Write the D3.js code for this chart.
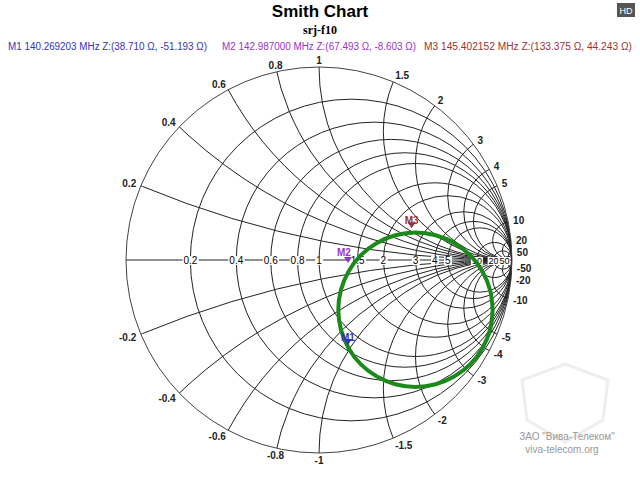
<!DOCTYPE html><html><head><meta charset="utf-8"><script src="https://cdn.jsdelivr.net/npm/d3@7"></script>
<style>body{margin:0;background:#fff}</style></head><body><svg id="c" width="640" height="480"></svg><script>
const rValues=[0.2,0.4,0.6,0.8,1,1.5,2,3,4,5,10,20,50];
const xValues=[0.2,0.4,0.6,0.8,1,1.5,2,3,4,5,10,20,50];
const axisLabels=["0.2","0.4","0.6","0.8","1","1.5","2","3","4","5","10","20","50"];
// trace, reflection coefficient (re, im)
const traceRe=[0.90,0.886,0.846,0.783,0.70,0.604,0.50,0.396,0.30,0.217,0.154,0.114,0.10,0.114,0.154,0.217,0.30,0.396,0.50,0.604,0.70,0.783,0.846,0.886,0.90];
const traceIm=[-0.258,-0.154,-0.058,0.025,0.088,0.128,0.142,0.128,0.088,0.025,-0.058,-0.154,-0.258,-0.362,-0.458,-0.541,-0.604,-0.644,-0.658,-0.644,-0.604,-0.541,-0.458,-0.362,-0.258];
const markerNames=["M1","M2","M3"];
const markerRe=[0.15,0.15,0.48];
const markerIm=[-0.44,-0.015,0.165];
const markerColors=["#3333bb","#9933cc","#993333"];
const markerText=["M1  140.269203 MHz  Z:(38.710 Ω, -51.193 Ω)","M2  142.987000 MHz  Z:(67.493 Ω, -8.603 Ω)","M3  145.402152 MHz  Z:(133.375 Ω, 44.243 Ω)"];

const svg=d3.select("#c"),cx=319,cy=260,R=193;
const sx=d3.scaleLinear().domain([-1,1]).range([cx-R,cx+R]);
const sy=d3.scaleLinear().domain([-1,1]).range([cy+R,cy-R]);
const k=R;
svg.append("text").attr("x",320).attr("y",17).attr("text-anchor","middle").attr("font-family","Arial").attr("font-weight","bold").attr("font-size",17).text("Smith Chart");
svg.append("text").attr("x",320).attr("y",34).attr("text-anchor","middle").attr("font-family","Liberation Serif").attr("font-weight","bold").attr("font-size",12).text("srj-f10");
svg.append("rect").attr("x",617).attr("y",3).attr("width",18).attr("height",14).attr("fill","#555");
svg.append("text").attr("x",626).attr("y",14).attr("text-anchor","middle").attr("fill","#fff").attr("font-family","Arial").attr("font-size",9).text("HD");
const hx=[8,222,424],hw=[199,194,208];
markerText.forEach((t,i)=>svg.append("text").attr("x",hx[i]).attr("y",50).attr("font-family","Arial").attr("font-size",10).attr("textLength",hw[i]).attr("lengthAdjust","spacingAndGlyphs").attr("fill",markerColors[i]).text(t));
svg.append("path").attr("d","M522,380 L565,364 L608,380 L603,420 L565,442 L527,420 Z").attr("fill","none").attr("stroke","#eee").attr("stroke-width",3);
svg.append("text").attr("x",567).attr("y",440).attr("text-anchor","middle").attr("font-family","Arial").attr("font-size",10).attr("fill","#999").text("ЗАО \"Вива-Телеком\"");
svg.append("text").attr("x",562).attr("y",453).attr("text-anchor","middle").attr("font-family","Arial").attr("font-size",10).attr("fill","#999").text("viva-telecom.org");

svg.append("clipPath").attr("id","uc").append("circle").attr("cx",cx).attr("cy",cy).attr("r",R);
const g=svg.append("g").attr("clip-path","url(#uc)");
function ap(sel){return sel.attr("stroke","#222").attr("stroke-width",1).attr("fill","none");}
rValues.forEach(r=>ap(g.append("circle").attr("cx",sx(r/(1+r))).attr("cy",sy(0)).attr("r",k/(1+r))));
xValues.forEach(x=>[1,-1].forEach(s=>ap(g.append("circle").attr("cx",sx(1)).attr("cy",sy(s/x)).attr("r",k/x))));
ap(g.append("line").attr("x1",sx(-1)).attr("x2",sx(1)).attr("y1",sy(0)).attr("y2",sy(0)));
ap(svg.append("circle").attr("cx",cx).attr("cy",cy).attr("r",R)).attr("stroke","#444");
rValues.forEach((r,i)=>{const x=sx((r-1)/(r+1));const fs=r>=10?9:10;
 const t=svg.append("text").attr("x",x).attr("y",cy+4).attr("text-anchor","middle").attr("font-family","Arial").attr("font-size",fs).text(axisLabels[i]);
 const b=t.node().getBBox();svg.insert("rect","text:last-child").attr("x",b.x-1).attr("y",b.y+1).attr("width",b.width+2).attr("height",b.height-2).attr("fill","#fff");});
xValues.forEach((x,i)=>[1,-1].forEach(s=>{const re=(x*x-1)/(x*x+1),im=s*2*x/(x*x+1);const a=Math.atan2(im,re);
 const c=Math.cos(a),an=c>0.25?"start":c<-0.25?"end":"middle";
 svg.append("text").attr("x",cx+(R+5)*c).attr("y",cy-(R+7)*Math.sin(a)+4).attr("text-anchor",an).attr("font-family","Arial").attr("font-weight","bold").attr("font-size",10).attr("fill","#222").text((s<0?"-":"")+axisLabels[i]);}));
svg.append("path").datum(d3.range(traceRe.length)).attr("d",d3.line().x(i=>sx(traceRe[i])).y(i=>sy(traceIm[i])).curve(d3.curveCatmullRomClosed)).attr("fill","none").attr("stroke","#1a8a1a").attr("stroke-width",4);
markerNames.forEach((m,i)=>{const x=sx(markerRe[i]),y=sy(markerIm[i]);
 svg.append("path").attr("d",`M${x},${y} l-4,-6 l8,0 z`).attr("fill",markerColors[i]);
 svg.append("text").attr("x",i===1?x+3:x).attr("y",i===1?y-7:y-4).attr("text-anchor",i===1?"end":"middle").attr("font-family","Arial").attr("font-weight","bold").attr("font-size",10).attr("fill",markerColors[i]).text(m);});
</script></body></html>
